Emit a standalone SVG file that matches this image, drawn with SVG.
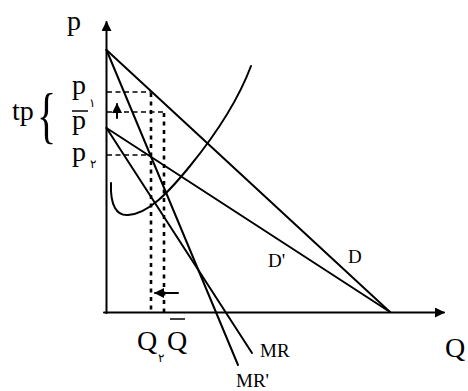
<svg xmlns="http://www.w3.org/2000/svg" width="468" height="391" viewBox="0 0 468 391">
<style>
.t{font-family:"Liberation Serif","DejaVu Serif",serif;fill:#000}
.big{font-size:28px}
.lab{font-size:19px}
.sub{font-size:12px}
.ln{stroke:#000;stroke-width:2;fill:none;stroke-linecap:round}
.dh{stroke:#000;stroke-width:1.6;fill:none;stroke-dasharray:5 3.5}
.dv{stroke:#000;stroke-width:2.6;fill:none;stroke-dasharray:4 4.5}
</style>
<defs>
<marker id="ah" viewBox="0 0 10 10" refX="9" refY="5" markerWidth="10" markerHeight="10" markerUnits="userSpaceOnUse" orient="auto">
<path d="M0,0 L10,5 L0,10 Z" fill="#000"/>
</marker>
</defs>
<rect width="468" height="391" fill="#fff"/>
<g id="axes">
<line class="ln" x1="106.5" y1="313" x2="106.5" y2="22" marker-end="url(#ah)"/>
<line class="ln" x1="104" y1="312.5" x2="444" y2="312.5" marker-end="url(#ah)"/>
</g>
<g id="connectors">
<line id="D" class="ln" x1="106.5" y1="50" x2="390" y2="312"/>
<line id="Dp" class="ln" x1="106.5" y1="128" x2="390" y2="312"/>
<line id="MRp" class="ln" x1="106.5" y1="50" x2="238" y2="365"/>
<line id="MR" class="ln" x1="106.5" y1="128" x2="252" y2="353"/>
<path id="MC" class="ln" d="M111,183 C110,206 117,216 128,215 C148,214 168,193 190,166 C212,139 236,106 251,66"/>
<polyline class="dh" points="107,92 151,92"/>
<polyline class="dh" points="107,112 164,112"/>
<polyline class="dh" points="107,155 150,155"/>
<line class="dv" x1="151" y1="93" x2="151" y2="312"/>
<line class="dv" x1="164" y1="113" x2="164" y2="312"/>
<line class="ln" x1="117" y1="118" x2="117" y2="104" stroke-width="1.8" marker-end="url(#ah)"/>
<line class="ln" x1="178" y1="293" x2="155" y2="293" stroke-width="1.8" marker-end="url(#ah)"/>
</g>
<g id="label-p"><text class="t big" x="67" y="30">p</text></g>
<g id="label-tp">
<text class="t big" x="12" y="120">tp</text>
<text class="t" font-size="40" transform="translate(37,135.5) scale(1,1.55)">{</text>
</g>
<g id="label-p1"><text class="t big" x="72" y="94">p</text><text class="t sub" x="89" y="107">۱</text></g>
<g id="label-pbar"><text class="t big" x="72" y="129">p</text><line x1="72" y1="111" x2="88" y2="111" stroke="#000" stroke-width="1.5"/></g>
<g id="label-p2"><text class="t big" x="72" y="161">p</text><text class="t sub" x="90" y="168">۲</text></g>
<g id="label-Q2"><text class="t big" x="137" y="350">Q</text><text class="t sub" x="158" y="362">۲</text></g>
<g id="label-Qbar"><text class="t big" x="167" y="350">Q</text><line x1="170" y1="319" x2="185" y2="319" stroke="#000" stroke-width="1.5"/></g>
<g id="label-Q"><text class="t big" x="445" y="357">Q</text></g>
<g id="label-MR"><text class="t lab" x="260" y="357">MR</text></g>
<g id="label-MRp"><text class="t lab" x="236" y="387">MR'</text></g>
<g id="label-Dp"><text class="t lab" x="268" y="267">D'</text></g>
<g id="label-D"><text class="t lab" x="348" y="263">D</text></g>
</svg>
